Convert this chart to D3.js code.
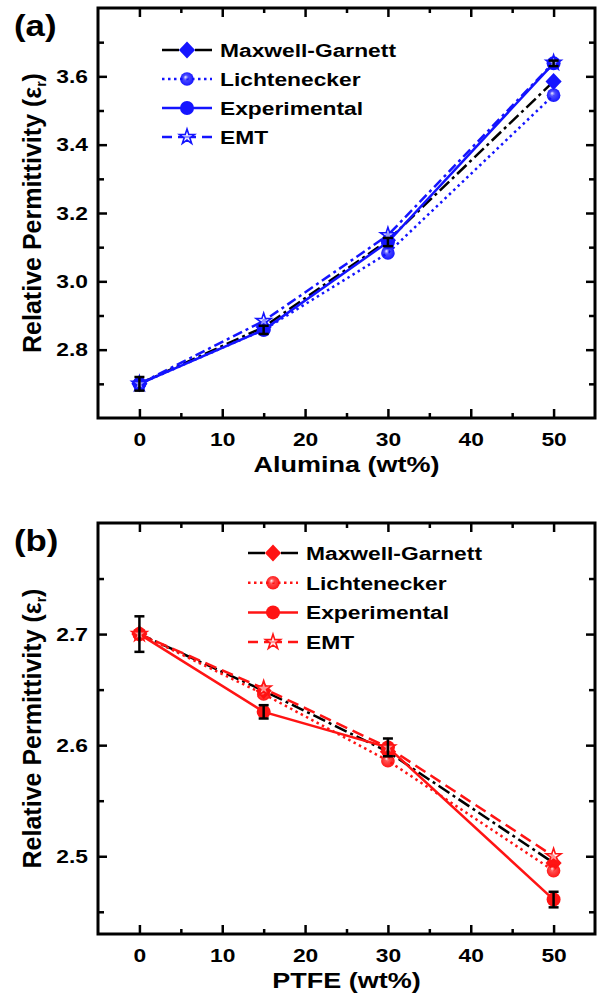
<!DOCTYPE html>
<html>
<head>
<meta charset="utf-8">
<script src="https://cdn.jsdelivr.net/npm/d3@7"></script>
<style>
  html, body { margin: 0; padding: 0; background: #fff; }
  svg { display: block; }
  text { font-family: "Liberation Sans", Arial, Helvetica, sans-serif; font-weight: bold; fill: #000; }
</style>
</head>
<body>
<svg id="chart" width="599" height="1000"></svg>
<script>
// Filler content (wt%) shared by both composites
const wtPercent = [0, 15, 30, 50];

// (a) Alumina-filled composite
const aluminaMG    = [2.70, 2.866, 3.120, 3.585];
const aluminaLicht = [2.70, 2.858, 3.083, 3.545];
const aluminaExp   = [2.70, 2.858, 3.115, 3.638];
const aluminaErr   = [0.020, 0.012, 0.012, 0.008];
const aluminaEMT   = [2.70, 2.884, 3.135, 3.640];

// (b) PTFE-filled composite
const ptfeMG    = [2.70, 2.649, 2.594, 2.494];
const ptfeLicht = [2.70, 2.646, 2.586, 2.487];
const ptfeExp   = [2.70, 2.630, 2.598, 2.461];
const ptfeErr   = [0.016, 0.006, 0.008, 0.007];
const ptfeEMT   = [2.70, 2.651, 2.598, 2.500];

// Axis ticks
const xMajorTicks = [0, 10, 20, 30, 40, 50];
const xMinorTicks = [5, 15, 25, 35, 45];
const aluminaYMajor = [2.8, 3.0, 3.2, 3.4, 3.6];
const aluminaYMinor = [2.7, 2.9, 3.1, 3.3, 3.5, 3.7];
const ptfeYMajor = [2.5, 2.6, 2.7];
const ptfeYMinor = [2.45, 2.55, 2.65, 2.75];

const seriesNames = ["Maxwell-Garnett", "Lichtenecker", "Experimental", "EMT"];
const panelLabels = ["(a)", "(b)"];
const xTitles = ["Alumina (wt%)", "PTFE (wt%)"];

const SX = 1.2; // horizontal text stretch
const svg = d3.select("#chart");
const defs = svg.append("defs");

function sphereGradient(id, color) {
  const g = defs.append("radialGradient").attr("id", id)
    .attr("cx", "50%").attr("cy", "50%").attr("r", "55%")
    .attr("fx", "38%").attr("fy", "35%");
  g.append("stop").attr("offset", "0%").attr("stop-color", "#ffffff");
  g.append("stop").attr("offset", "35%").attr("stop-color", color).attr("stop-opacity", 0.75);
  g.append("stop").attr("offset", "100%").attr("stop-color", color);
}
sphereGradient("sphereBlue", "#1010ff");
sphereGradient("sphereRed", "#ff1010");

function stretchedText(parent, x, y, str, size, anchor) {
  return parent.append("text")
    .attr("transform", `translate(${x},${y}) scale(${SX},1)`)
    .attr("text-anchor", anchor || "start")
    .style("font-size", size + "px")
    .text(str);
}

const diamondPath = (s) => `M0,${-s}L${s * 0.95},0L0,${s}L${-s * 0.95},0Z`;

function drawMarker(parent, kind, cx, cy, color, gradId) {
  const m = parent.append("g").attr("transform", `translate(${cx},${cy})`);
  if (kind === "diamond") {
    m.append("path").attr("d", diamondPath(8.5)).attr("fill", color);
  } else if (kind === "sphere") {
    m.append("circle").attr("r", 6.8).attr("fill", `url(#${gradId})`);
  } else if (kind === "circle") {
    m.append("circle").attr("r", 7).attr("fill", color);
  } else if (kind === "star") {
    m.append("path").attr("d", d3.symbol(d3.symbolStar, 70)())
      .attr("fill", "rgba(255,255,255,0.55)").attr("stroke", color).attr("stroke-width", 1.6);
  }
}

function drawPanel(cfg) {
  const g = svg.append("g");
  const x = d3.scaleLinear().domain([-5, 55]).range([cfg.left, cfg.right]);
  const y = d3.scaleLinear().domain(cfg.yDomain).range([cfg.bottom, cfg.top]);

  const styleAxis = (sel) => {
    sel.select(".domain").remove();
    sel.selectAll(".tick line").attr("stroke", "#000").attr("stroke-width", 2.5);
  };

  // bottom axis with labels
  const bottom = g.append("g").attr("transform", `translate(0,${cfg.bottom})`)
    .call(d3.axisBottom(x).tickValues(xMajorTicks).tickSize(-9).tickPadding(15).tickFormat(d3.format("d")))
    .call(styleAxis);
  bottom.selectAll("text").attr("fill", "#000").style("font-size", "19px")
    .attr("transform", `scale(${SX},1)`);
  g.append("g").attr("transform", `translate(0,${cfg.bottom})`)
    .call(d3.axisBottom(x).tickValues(xMinorTicks).tickSize(-5).tickFormat(""))
    .call(styleAxis);

  // top axis
  g.append("g").attr("transform", `translate(0,${cfg.top})`)
    .call(d3.axisTop(x).tickValues(xMajorTicks).tickSize(-9).tickFormat(""))
    .call(styleAxis);
  g.append("g").attr("transform", `translate(0,${cfg.top})`)
    .call(d3.axisTop(x).tickValues(xMinorTicks).tickSize(-5).tickFormat(""))
    .call(styleAxis);

  // left axis with labels
  const left = g.append("g").attr("transform", `translate(${cfg.left},0)`)
    .call(d3.axisLeft(y).tickValues(cfg.yMajor).tickSize(-9).tickPadding(10 / SX).tickFormat(d3.format(".1f")))
    .call(styleAxis);
  left.selectAll("text").attr("fill", "#000").style("font-size", "19px")
    .attr("transform", `scale(${SX},1)`);
  g.append("g").attr("transform", `translate(${cfg.left},0)`)
    .call(d3.axisLeft(y).tickValues(cfg.yMinor).tickSize(-6).tickFormat(""))
    .call(styleAxis);

  // right axis
  g.append("g").attr("transform", `translate(${cfg.right},0)`)
    .call(d3.axisRight(y).tickValues(cfg.yMajor).tickSize(-9).tickFormat(""))
    .call(styleAxis);
  g.append("g").attr("transform", `translate(${cfg.right},0)`)
    .call(d3.axisRight(y).tickValues(cfg.yMinor).tickSize(-6).tickFormat(""))
    .call(styleAxis);

  // frame
  g.append("rect")
    .attr("x", cfg.left).attr("y", cfg.top)
    .attr("width", cfg.right - cfg.left).attr("height", cfg.bottom - cfg.top)
    .attr("fill", "none").attr("stroke", "#000").attr("stroke-width", 3);

  const c = cfg.color;
  const series = [
    { vals: cfg.mg,    stroke: "#000", dash: "13,4,3,4", legendDash: "17,16,17", marker: "diamond" },
    { vals: cfg.licht, stroke: c,      dash: "2.5,3.5",  legendDash: "2.5,3.5", marker: "sphere" },
    { vals: cfg.exp,   stroke: c,      dash: null,       legendDash: null, marker: "circle" },
    { vals: cfg.emt,   stroke: c,      dash: cfg.emtDash, legendDash: "10,6,18,6,10", marker: "star" }
  ];

  const line = d3.line().x((d, i) => x(wtPercent[i])).y(d => y(d));
  const plot = g.append("g");
  series.forEach(s => {
    plot.append("path").datum(s.vals)
      .attr("d", line).attr("fill", "none")
      .attr("stroke", s.stroke).attr("stroke-width", 2.5)
      .attr("stroke-dasharray", s.dash);
  });
  series.forEach(s => {
    s.vals.forEach((v, i) => drawMarker(plot, s.marker, x(wtPercent[i]), y(v), c, cfg.grad));
  });

  // error bars on measured values
  const eb = g.append("g").attr("stroke", "#000").attr("stroke-width", 2.5);
  cfg.exp.forEach((v, i) => {
    const cx = x(wtPercent[i]);
    const y0 = y(v - cfg.err[i]), y1 = y(v + cfg.err[i]);
    eb.append("line").attr("x1", cx).attr("x2", cx).attr("y1", y0).attr("y2", y1);
    eb.append("line").attr("x1", cx - 5).attr("x2", cx + 5).attr("y1", y0).attr("y2", y0);
    eb.append("line").attr("x1", cx - 5).attr("x2", cx + 5).attr("y1", y1).attr("y2", y1);
  });

  // legend
  const lg = g.append("g");
  series.forEach((s, i) => {
    const ry = cfg.legendY + i * cfg.legendStep;
    lg.append("line")
      .attr("x1", cfg.legendX).attr("x2", cfg.legendX + 50)
      .attr("y1", ry).attr("y2", ry)
      .attr("stroke", s.stroke).attr("stroke-width", 2.5)
      .attr("stroke-dasharray", s.legendDash);
    drawMarker(lg, s.marker, cfg.legendX + 25, ry, c, cfg.grad);
    stretchedText(lg, cfg.legendX + 58, ry + 7, seriesNames[i], 19);
  });

  // panel label
  stretchedText(g, 14, cfg.top + 28, cfg.label, 29);

  // x-axis title
  stretchedText(g, (cfg.left + cfg.right) / 2, cfg.xTitleY, cfg.xTitle, 22.5, "middle");

  // y-axis title
  const yt = g.append("text")
    .attr("transform", `translate(41,${(cfg.top + cfg.bottom) / 2}) rotate(-90)`)
    .attr("text-anchor", "middle")
    .style("font-size", "25px");
  yt.append("tspan").text("Relative Permittivity (\u03b5");
  yt.append("tspan").attr("dy", 5).style("font-size", "14px").text("r");
  yt.append("tspan").attr("dy", -5).text(")");
}

drawPanel({
  left: 98, right: 595, top: 8, bottom: 418,
  yDomain: [2.6, 3.8], yMajor: aluminaYMajor, yMinor: aluminaYMinor,
  mg: aluminaMG, licht: aluminaLicht, exp: aluminaExp, err: aluminaErr, emt: aluminaEMT,
  color: "#1414ff", grad: "sphereBlue", emtDash: "10,4,3,4",
  legendX: 162, legendY: 50, legendStep: 29,
  label: panelLabels[0], xTitle: xTitles[0], xTitleY: 472
});

drawPanel({
  left: 98, right: 595, top: 523, bottom: 934,
  yDomain: [2.43, 2.8], yMajor: ptfeYMajor, yMinor: ptfeYMinor,
  mg: ptfeMG, licht: ptfeLicht, exp: ptfeExp, err: ptfeErr, emt: ptfeEMT,
  color: "#ff1414", grad: "sphereRed", emtDash: "12,6",
  legendX: 248, legendY: 553, legendStep: 29.7,
  label: panelLabels[1], xTitle: xTitles[1], xTitleY: 988
});
</script>
</body>
</html>
